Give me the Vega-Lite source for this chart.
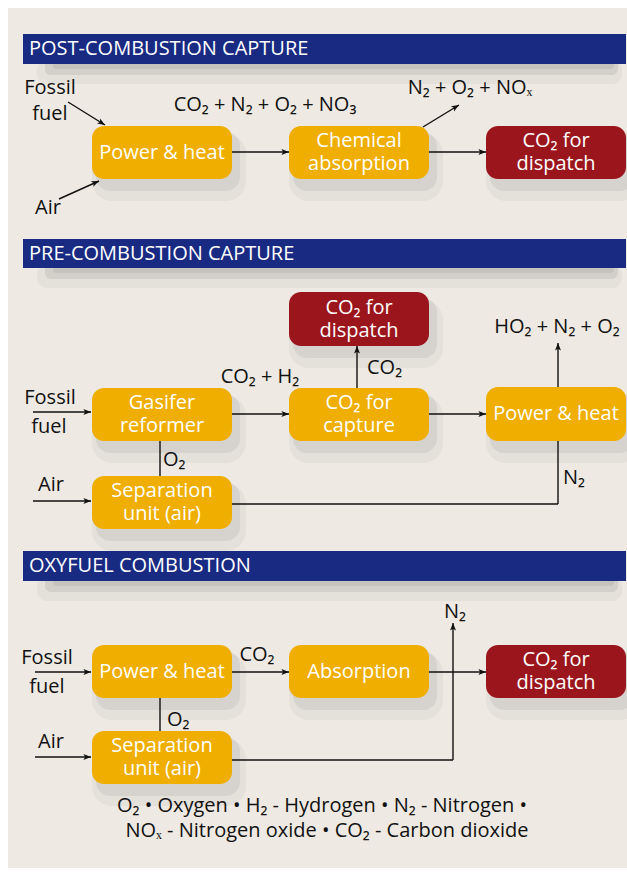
{
  "$schema": "https://vega.github.io/schema/vega-lite/v6.json",
  "autosize": {"type": "none"},
  "width": 627,
  "height": 872,
  "padding": 0,
  "background": "#ffffff",
  "config": {"view": {"stroke": null}, "text": {"font": "Open Sans"}},
  "datasets": {
    "bg": [{"x": 8, "x2": 627, "y": 8, "y2": 868}],
    "headers": [
      {"x": 23, "x2": 626, "y": 34, "y2": 64, "tx": 29, "ty": 49, "title": "POST-COMBUSTION CAPTURE"},
      {"x": 23, "x2": 626, "y": 239, "y2": 268, "tx": 29, "ty": 253.5, "title": "PRE-COMBUSTION CAPTURE"},
      {"x": 23, "x2": 626, "y": 551, "y2": 581, "tx": 29, "ty": 566, "title": "OXYFUEL COMBUSTION"}
    ],
    "boxes": [
      {"x": 92, "x2": 232, "y": 126, "y2": 179, "cx": 162, "cy": 152.5, "kind": "process", "label": "Power & heat"},
      {"x": 289, "x2": 429, "y": 126, "y2": 179, "cx": 359, "cy": 152.5, "kind": "process", "label": "Chemical\nabsorption"},
      {"x": 486, "x2": 626, "y": 126, "y2": 179, "cx": 556, "cy": 152.5, "kind": "output", "label": "CO₂ for\ndispatch"},
      {"x": 289, "x2": 429, "y": 292, "y2": 346, "cx": 359, "cy": 319, "kind": "output", "label": "CO₂ for\ndispatch"},
      {"x": 92, "x2": 232, "y": 388, "y2": 441, "cx": 162, "cy": 414.5, "kind": "process", "label": "Gasifer\nreformer"},
      {"x": 289, "x2": 429, "y": 388, "y2": 441, "cx": 359, "cy": 414.5, "kind": "process", "label": "CO₂ for\ncapture"},
      {"x": 486, "x2": 626, "y": 387, "y2": 441, "cx": 556, "cy": 414, "kind": "process", "label": "Power & heat"},
      {"x": 92, "x2": 232, "y": 476, "y2": 529, "cx": 162, "cy": 502.5, "kind": "process", "label": "Separation\nunit (air)"},
      {"x": 92, "x2": 232, "y": 645, "y2": 698, "cx": 162, "cy": 671.5, "kind": "process", "label": "Power & heat"},
      {"x": 289, "x2": 429, "y": 645, "y2": 698, "cx": 359, "cy": 671.5, "kind": "process", "label": "Absorption"},
      {"x": 486, "x2": 626, "y": 645, "y2": 698, "cx": 556, "cy": 671.5, "kind": "output", "label": "CO₂ for\ndispatch"},
      {"x": 92, "x2": 232, "y": 731, "y2": 784, "cx": 162, "cy": 757.5, "kind": "process", "label": "Separation\nunit (air)"}
    ],
    "lines": [
      {"x1": 68, "y1": 102, "x2": 105, "y2": 125, "head": 122},
      {"x1": 59, "y1": 199, "x2": 99, "y2": 181, "head": 66},
      {"x1": 232, "y1": 152, "x2": 289, "y2": 152, "head": 90},
      {"x1": 423, "y1": 127, "x2": 459, "y2": 105, "head": 59},
      {"x1": 429, "y1": 152, "x2": 486, "y2": 152, "head": 90},
      {"x1": 33, "y1": 412, "x2": 91, "y2": 412, "head": 90},
      {"x1": 232, "y1": 414, "x2": 289, "y2": 414, "head": 90},
      {"x1": 357, "y1": 388, "x2": 357, "y2": 346, "head": 0},
      {"x1": 429, "y1": 414, "x2": 486, "y2": 414, "head": 90},
      {"x1": 558, "y1": 387, "x2": 558, "y2": 343, "head": 0},
      {"x1": 160, "y1": 441, "x2": 160, "y2": 476, "head": null},
      {"x1": 33, "y1": 501, "x2": 91, "y2": 501, "head": 90},
      {"x1": 232, "y1": 504, "x2": 558, "y2": 504, "head": null},
      {"x1": 558, "y1": 504, "x2": 558, "y2": 441, "head": null},
      {"x1": 35, "y1": 672, "x2": 91, "y2": 672, "head": 90},
      {"x1": 232, "y1": 672, "x2": 289, "y2": 672, "head": 90},
      {"x1": 429, "y1": 672, "x2": 486, "y2": 672, "head": 90},
      {"x1": 453, "y1": 760, "x2": 453, "y2": 623, "head": 0},
      {"x1": 160, "y1": 698, "x2": 160, "y2": 731, "head": null},
      {"x1": 35, "y1": 757, "x2": 91, "y2": 757, "head": 90},
      {"x1": 232, "y1": 760, "x2": 453, "y2": 760, "head": null}
    ],
    "centerLabels": [
      {"x": 50, "y": 88, "t": "Fossil"},
      {"x": 50, "y": 114, "t": "fuel"},
      {"x": 48, "y": 208, "t": "Air"},
      {"x": 265, "y": 105, "t": "CO₂ + N₂ + O₂ + NO₃"},
      {"x": 470, "y": 88, "t": "N₂ + O₂ + NOₓ"},
      {"x": 50, "y": 398, "t": "Fossil"},
      {"x": 49, "y": 427, "t": "fuel"},
      {"x": 260, "y": 377, "t": "CO₂ + H₂"},
      {"x": 557, "y": 327, "t": "HO₂ + N₂ + O₂"},
      {"x": 51, "y": 485, "t": "Air"},
      {"x": 47, "y": 658, "t": "Fossil"},
      {"x": 47, "y": 687, "t": "fuel"},
      {"x": 257, "y": 655, "t": "CO₂"},
      {"x": 455, "y": 612, "t": "N₂"},
      {"x": 51, "y": 742, "t": "Air"},
      {"x": 322, "y": 806, "t": "O₂ • Oxygen • H₂ - Hydrogen • N₂ - Nitrogen •"},
      {"x": 327, "y": 831, "t": "NOₓ - Nitrogen oxide • CO₂ - Carbon dioxide"}
    ],
    "leftLabels": [
      {"x": 367, "y": 368, "t": "CO₂"},
      {"x": 163, "y": 460, "t": "O₂"},
      {"x": 563, "y": 478, "t": "N₂"},
      {"x": 167, "y": 720, "t": "O₂"}
    ]
  },
  "layer": [
    {
      "data": {"name": "bg"},
      "mark": {"type": "rect", "color": "#eeeae3"},
      "encoding": {
        "x": {"field": "x", "type": "quantitative", "scale": {"domain": [0, 627], "nice": false, "zero": false}, "axis": null},
        "x2": {"field": "x2"},
        "y": {"field": "y", "type": "quantitative", "scale": {"domain": [0, 872], "nice": false, "zero": false, "reverse": true}, "axis": null},
        "y2": {"field": "y2"}
      }
    },
    {
      "data": {"name": "headers"},
      "mark": {"type": "rect", "color": "#000000", "opacity": 0.04, "xOffset": 14, "x2Offset": -4, "yOffset": 26, "y2Offset": 20, "cornerRadius": 10},
      "encoding": {
        "x": {"field": "x", "type": "quantitative", "scale": {"domain": [0, 627], "nice": false, "zero": false}, "axis": null},
        "x2": {"field": "x2"},
        "y": {"field": "y", "type": "quantitative", "scale": {"domain": [0, 872], "nice": false, "zero": false, "reverse": true}, "axis": null},
        "y2": {"field": "y2"}
      }
    },
    {
      "data": {"name": "headers"},
      "mark": {"type": "rect", "color": "#000000", "opacity": 0.07, "xOffset": 22, "x2Offset": -8, "yOffset": 24, "y2Offset": 11, "cornerRadius": 6},
      "encoding": {
        "x": {"field": "x", "type": "quantitative", "scale": {"domain": [0, 627], "nice": false, "zero": false}, "axis": null},
        "x2": {"field": "x2"},
        "y": {"field": "y", "type": "quantitative", "scale": {"domain": [0, 872], "nice": false, "zero": false, "reverse": true}, "axis": null},
        "y2": {"field": "y2"}
      }
    },
    {
      "data": {"name": "headers"},
      "mark": {"type": "rect", "color": "#000000", "opacity": 0.06, "xOffset": 30, "x2Offset": -12, "yOffset": 22, "y2Offset": 5, "cornerRadius": 3},
      "encoding": {
        "x": {"field": "x", "type": "quantitative", "scale": {"domain": [0, 627], "nice": false, "zero": false}, "axis": null},
        "x2": {"field": "x2"},
        "y": {"field": "y", "type": "quantitative", "scale": {"domain": [0, 872], "nice": false, "zero": false, "reverse": true}, "axis": null},
        "y2": {"field": "y2"}
      }
    },
    {
      "data": {"name": "boxes"},
      "mark": {"type": "rect", "color": "#000000", "opacity": 0.04, "xOffset": 0, "x2Offset": 14, "yOffset": 8, "y2Offset": 22, "cornerRadius": 20},
      "encoding": {
        "x": {"field": "x", "type": "quantitative", "scale": {"domain": [0, 627], "nice": false, "zero": false}, "axis": null},
        "x2": {"field": "x2"},
        "y": {"field": "y", "type": "quantitative", "scale": {"domain": [0, 872], "nice": false, "zero": false, "reverse": true}, "axis": null},
        "y2": {"field": "y2"}
      }
    },
    {
      "data": {"name": "boxes"},
      "mark": {"type": "rect", "color": "#000000", "opacity": 0.06, "xOffset": 4, "x2Offset": 8, "yOffset": 6, "y2Offset": 12, "cornerRadius": 14},
      "encoding": {
        "x": {"field": "x", "type": "quantitative", "scale": {"domain": [0, 627], "nice": false, "zero": false}, "axis": null},
        "x2": {"field": "x2"},
        "y": {"field": "y", "type": "quantitative", "scale": {"domain": [0, 872], "nice": false, "zero": false, "reverse": true}, "axis": null},
        "y2": {"field": "y2"}
      }
    },
    {
      "data": {"name": "headers"},
      "mark": {"type": "rect", "color": "#182a82"},
      "encoding": {
        "x": {"field": "x", "type": "quantitative", "scale": {"domain": [0, 627], "nice": false, "zero": false}, "axis": null},
        "x2": {"field": "x2"},
        "y": {"field": "y", "type": "quantitative", "scale": {"domain": [0, 872], "nice": false, "zero": false, "reverse": true}, "axis": null},
        "y2": {"field": "y2"}
      }
    },
    {
      "data": {"name": "headers"},
      "mark": {"type": "text", "color": "#ffffff", "align": "left", "baseline": "middle", "fontSize": 20, "font": "Open Sans"},
      "encoding": {
        "x": {"field": "tx", "type": "quantitative", "scale": {"domain": [0, 627], "nice": false, "zero": false}, "axis": null},
        "y": {"field": "ty", "type": "quantitative", "scale": {"domain": [0, 872], "nice": false, "zero": false, "reverse": true}, "axis": null},
        "text": {"field": "title"}
      }
    },
    {
      "data": {"name": "boxes"},
      "mark": {"type": "rect", "cornerRadius": 12},
      "encoding": {
        "x": {"field": "x", "type": "quantitative", "scale": {"domain": [0, 627], "nice": false, "zero": false}, "axis": null},
        "x2": {"field": "x2"},
        "y": {"field": "y", "type": "quantitative", "scale": {"domain": [0, 872], "nice": false, "zero": false, "reverse": true}, "axis": null},
        "y2": {"field": "y2"},
        "color": {"field": "kind", "type": "nominal", "scale": {"domain": ["process", "output"], "range": ["#efae00", "#9b151d"]}, "legend": null}
      }
    },
    {
      "data": {"name": "boxes"},
      "transform": [{"filter": "indexof(datum.label, '\\n') < 0"}],
      "mark": {"type": "text", "color": "#ffffff", "align": "center", "baseline": "middle", "fontSize": 20, "font": "Open Sans"},
      "encoding": {
        "x": {"field": "cx", "type": "quantitative", "scale": {"domain": [0, 627], "nice": false, "zero": false}, "axis": null},
        "y": {"field": "cy", "type": "quantitative", "scale": {"domain": [0, 872], "nice": false, "zero": false, "reverse": true}, "axis": null},
        "text": {"field": "label"}
      }
    },
    {
      "data": {"name": "boxes"},
      "transform": [{"filter": "indexof(datum.label, '\\n') >= 0"}],
      "mark": {"type": "text", "color": "#ffffff", "align": "center", "baseline": "middle", "fontSize": 20, "lineBreak": "\n", "lineHeight": 23, "dy": -11.5, "font": "Open Sans"},
      "encoding": {
        "x": {"field": "cx", "type": "quantitative", "scale": {"domain": [0, 627], "nice": false, "zero": false}, "axis": null},
        "y": {"field": "cy", "type": "quantitative", "scale": {"domain": [0, 872], "nice": false, "zero": false, "reverse": true}, "axis": null},
        "text": {"field": "label"}
      }
    },
    {
      "data": {"name": "lines"},
      "mark": {"type": "rule", "color": "#111111", "strokeWidth": 1.4},
      "encoding": {
        "x": {"field": "x1", "type": "quantitative", "scale": {"domain": [0, 627], "nice": false, "zero": false}, "axis": null},
        "y": {"field": "y1", "type": "quantitative", "scale": {"domain": [0, 872], "nice": false, "zero": false, "reverse": true}, "axis": null},
        "x2": {"field": "x2"},
        "y2": {"field": "y2"}
      }
    },
    {
      "data": {"name": "lines"},
      "transform": [{"filter": "datum.head != null"}],
      "mark": {"type": "point", "filled": true, "color": "#111111", "opacity": 1, "size": 64, "strokeWidth": 0, "shape": "M0,0 L0.75,1.9 L0,1.45 L-0.75,1.9 Z"},
      "encoding": {
        "x": {"field": "x2", "type": "quantitative", "scale": {"domain": [0, 627], "nice": false, "zero": false}, "axis": null},
        "y": {"field": "y2", "type": "quantitative", "scale": {"domain": [0, 872], "nice": false, "zero": false, "reverse": true}, "axis": null},
        "angle": {"field": "head", "type": "quantitative", "scale": null}
      }
    },
    {
      "data": {"name": "centerLabels"},
      "mark": {"type": "text", "color": "#111111", "align": "center", "baseline": "middle", "fontSize": 20, "font": "Open Sans"},
      "encoding": {
        "x": {"field": "x", "type": "quantitative", "scale": {"domain": [0, 627], "nice": false, "zero": false}, "axis": null},
        "y": {"field": "y", "type": "quantitative", "scale": {"domain": [0, 872], "nice": false, "zero": false, "reverse": true}, "axis": null},
        "text": {"field": "t"}
      }
    },
    {
      "data": {"name": "leftLabels"},
      "mark": {"type": "text", "color": "#111111", "align": "left", "baseline": "middle", "fontSize": 20, "font": "Open Sans"},
      "encoding": {
        "x": {"field": "x", "type": "quantitative", "scale": {"domain": [0, 627], "nice": false, "zero": false}, "axis": null},
        "y": {"field": "y", "type": "quantitative", "scale": {"domain": [0, 872], "nice": false, "zero": false, "reverse": true}, "axis": null},
        "text": {"field": "t"}
      }
    }
  ]
}
